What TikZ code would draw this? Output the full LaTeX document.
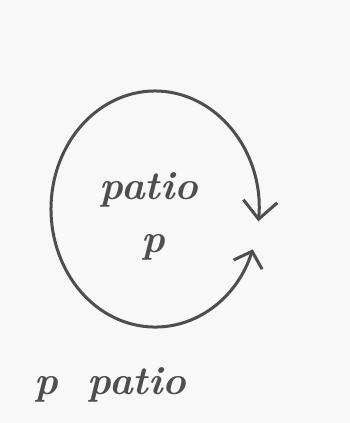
\documentclass[tikz,border=0pt]{standalone}
\usetikzlibrary{arrows.meta}
\definecolor{ink}{RGB}{78,78,78}
\definecolor{paper}{RGB}{248,248,248}
\tikzset{
  pen/.style={draw=ink, line width=3pt, line cap=round, line join=round},
  hand/.style={text=ink, font=\fontsize{40}{46}\selectfont\bfseries\itshape, inner sep=0pt}
}
\begin{document}
\begin{tikzpicture}[x=1pt, y=1pt]
  \fill[paper] (0,0) rectangle (350,423);
  \useasboundingbox (0,0) rectangle (350,423);
  \coordinate (c) at (155,214);
  \draw[pen, {Straight Barb[length=14pt, width=30pt]}-{Straight Barb[length=18pt, width=34pt]}]
    ([shift={(-20:104 and 118)}]c) arc[start angle=-20, end angle=-366, x radius=104, y radius=118];
  \node[hand] (patio) at (149,233) {patio};
  \node[hand] (p) at (153,176) {p};
  \node[hand, anchor=west] (bottom) at (34,38) {p\hspace{30pt}patio};
\end{tikzpicture}
\end{document}
